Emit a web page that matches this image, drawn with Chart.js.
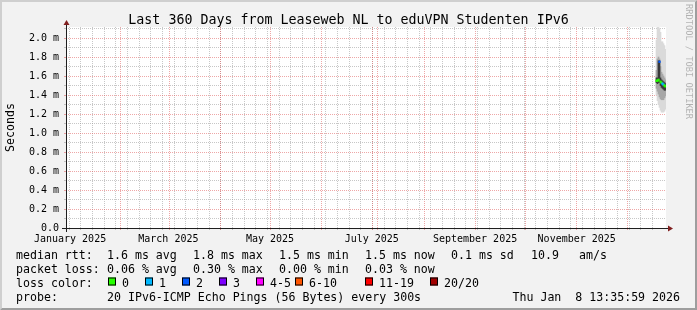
<!DOCTYPE html>
<html>
<head>
<meta charset="utf-8">
<script src="https://cdn.jsdelivr.net/npm/chart.js@4.4.1/dist/chart.umd.min.js"></script>
<style>
  html, body { margin: 0; padding: 0; background: #f2f2f2; }
  #wrap { width: 697px; height: 310px; position: relative; }
</style>
</head>
<body>
<div id="wrap"><canvas id="chart"></canvas></div>
<script>
// Smoke columns (last week of the graph), x = days since graph start
const days      = [354.3, 354.9, 355.5, 356.1, 356.7, 357.3, 357.9, 358.5, 359.1, 359.7];
const smokeMax  = [1.98, 2.12, 2.12, 2.10, 2.06, 1.96, 1.96, 1.94, 1.92, 1.88];
const smokeMin  = [1.40, 1.34, 1.30, 1.27, 1.24, 1.22, 1.22, 1.22, 1.23, 1.25];
const midHi     = [1.66, 1.78, 1.80, 1.78, 1.70, 1.64, 1.62, 1.60, 1.58, 1.56];
const midLo     = [1.47, 1.44, 1.41, 1.38, 1.36, 1.35, 1.35, 1.35, 1.37, 1.39];
const innerHi   = [1.58, 1.58, 1.76, 1.76, 1.58, 1.56, 1.55, 1.54, 1.53, 1.52];
const innerLo   = [1.53, 1.52, 1.53, 1.53, 1.50, 1.48, 1.47, 1.46, 1.45, 1.45];
const median    = [1.55, 1.55, 1.56, 1.75, 1.54, 1.53, 1.52, 1.51, 1.50, 1.49];
const lossLevel = [0, 0, 0, 2, 0, 0, 1, 1, 0, 0];   // index into lossColors

const lossColors = ['#26ff00', '#00b8ff', '#0059ff', '#7e00ff', '#ff00ff', '#ff5500', '#ff0000', '#a10000'];
const lossLabels = ['0', '1', '2', '3', '4-5', '6-10', '11-19', '20/20'];

const monthLabels = ['January 2025', 'March 2025', 'May 2025', 'July 2025', 'September 2025', 'November 2025'];
const yTicks = [0, 0.1, 0.2, 0.3, 0.4, 0.5, 0.6, 0.7, 0.8, 0.9, 1.0,
                1.1, 1.2, 1.3, 1.4, 1.5, 1.6, 1.7, 1.8, 1.9, 2.0, 2.1];

const rttStats  = ['1.6 ms avg', '1.8 ms max', '1.5 ms min', '1.5 ms now', '0.1 ms sd'];
const lossStats = ['0.06 % avg', '0.30 % max', '0.00 % min', '0.03 % now'];

// time axis helpers
const DAY = 86400000;
const graphStart = Date.UTC(2025, 0, 13, 13, 35, 59);
const toDay = t => (t - graphStart) / DAY;

const monthTicks = [];
for (let m = 1; m <= 12; m++) monthTicks.push(toDay(Date.UTC(2025, m, 1)));
const weekTicks = [];
for (let t = Date.UTC(2025, 0, 19); toDay(t) < 360; t += 7 * DAY) weekTicks.push(toDay(t));
const labelDays = [0, 2, 4, 6, 8, 10].map(m => toDay(Date.UTC(2025, m, 16)));

const MONO = "'DejaVu Sans Mono', monospace";
const GRID = 'rgba(143,143,143,0.5)';
const MGRID = 'rgba(222,79,79,0.5)';
const gridColor = kind => kind === 'major' ? MGRID : kind === 'minor' ? GRID : 'rgba(0,0,0,0)';

Chart.defaults.font.family = MONO;

const band = (lo, hi) => days.map((d, i) => ({ x: d, y: [lo[i], hi[i]] }));

// rrdtool look: background, frame, arrows, title, legend
const rrdFrame = {
    id: 'rrdFrame',
    beforeDraw(chart) {
        const { ctx, chartArea: a } = chart;
        ctx.save();
        ctx.fillStyle = '#f2f2f2';
        ctx.fillRect(0, 0, chart.width, chart.height);
        ctx.fillStyle = '#ffffff';
        ctx.fillRect(a.left, a.top, a.right - a.left, a.bottom - a.top);
        ctx.restore();
    },
    afterDraw(chart) {
        const { ctx, chartArea: a } = chart;
        const W = chart.width, H = chart.height;
        ctx.save();

        // axes
        const y0 = a.bottom + 0.5, x0 = a.left + 0.5;
        ctx.strokeStyle = '#1f1f1f';
        ctx.lineWidth = 1;
        ctx.beginPath();
        ctx.moveTo(a.left - 4, y0); ctx.lineTo(a.right + 4, y0);
        ctx.moveTo(x0, a.bottom + 4); ctx.lineTo(x0, a.top - 4);
        ctx.stroke();
        ctx.fillStyle = '#801f1f';
        ctx.beginPath();
        ctx.moveTo(a.right + 2, y0 - 3); ctx.lineTo(a.right + 2, y0 + 3); ctx.lineTo(a.right + 7, y0);
        ctx.closePath(); ctx.fill();
        ctx.beginPath();
        ctx.moveTo(x0 - 3, a.top - 2); ctx.lineTo(x0 + 3, a.top - 2); ctx.lineTo(x0, a.top - 7);
        ctx.closePath(); ctx.fill();

        // 3d border
        ctx.fillStyle = '#cfcfcf';
        ctx.beginPath();
        ctx.moveTo(0, H); ctx.lineTo(2, H - 2); ctx.lineTo(2, 2); ctx.lineTo(W - 2, 2);
        ctx.lineTo(W, 0); ctx.lineTo(0, 0); ctx.closePath(); ctx.fill();
        ctx.fillStyle = '#9e9e9e';
        ctx.beginPath();
        ctx.moveTo(2, H - 2); ctx.lineTo(W - 2, H - 2); ctx.lineTo(W - 2, 2);
        ctx.lineTo(W, 0); ctx.lineTo(W, H); ctx.lineTo(0, H); ctx.closePath(); ctx.fill();

        // title
        ctx.fillStyle = '#000';
        ctx.font = '13.3px ' + MONO;
        ctx.textAlign = 'center';
        ctx.textBaseline = 'alphabetic';
        ctx.fillText('Last 360 Days from Leaseweb NL to eduVPN Studenten IPv6', W / 2, 24);

        // legend
        ctx.font = '11.6px ' + MONO;
        ctx.textAlign = 'left';
        const statX = [107, 193, 279, 365, 451];
        ctx.fillText('median rtt:', 16, 258.5);
        rttStats.forEach((s, i) => ctx.fillText(s, statX[i], 258.5));
        ctx.fillText('10.9', 531, 258.5);
        ctx.fillText('am/s', 579, 258.5);
        ctx.fillText('packet loss:', 16, 272.5);
        lossStats.forEach((s, i) => ctx.fillText(s, statX[i], 272.5));
        ctx.fillText('loss color:', 16, 286.5);
        const boxX = [108, 145, 182, 219, 256, 295, 365, 430];
        lossColors.forEach((c, i) => {
            ctx.fillStyle = c;
            ctx.fillRect(boxX[i], 277.5, 8, 8);
            ctx.strokeStyle = '#000';
            ctx.strokeRect(boxX[i] + 0.5, 277.5 + 0.5, 7, 7);
            ctx.fillStyle = '#000';
            ctx.fillText(lossLabels[i], boxX[i] + 14, 286.5);
        });
        ctx.fillText('probe:', 16, 300.5);
        ctx.fillText('20 IPv6-ICMP Echo Pings (56 Bytes) every 300s', 107, 300.5);
        ctx.textAlign = 'right';
        ctx.fillText('Thu Jan  8 13:35:59 2026', 680, 300.5);

        // watermark
        ctx.translate(688, 4);
        ctx.rotate(Math.PI / 2);
        ctx.textAlign = 'left';
        ctx.textBaseline = 'middle';
        ctx.font = '8.7px ' + MONO;
        ctx.fillStyle = 'rgba(0,0,0,0.27)';
        ctx.fillText('RRDTOOL / TOBI OETIKER', 0, 0);
        ctx.restore();
    }
};

const barOpts = { grouped: false, categoryPercentage: 1, barPercentage: 1, borderWidth: 0 };

new Chart(document.getElementById('chart'), {
    type: 'bar',
    data: {
        datasets: [
            { ...barOpts, label: 'smoke', data: band(smokeMin, smokeMax), backgroundColor: '#dadada', order: 4 },
            { ...barOpts, label: 'smoke mid', data: band(midLo, midHi), backgroundColor: '#a8a8a8', order: 3 },
            { ...barOpts, label: 'smoke core', data: band(innerLo, innerHi), backgroundColor: '#3a3a3a', order: 2 },
            {
                type: 'line', label: 'median rtt', order: 1,
                data: days.map((d, i) => ({ x: d, y: median[i] })),
                showLine: false, pointStyle: 'rect', pointRadius: 1.6, pointBorderWidth: 0,
                pointBackgroundColor: lossLevel.map(l => lossColors[l])
            }
        ]
    },
    options: {
        responsive: true,
        maintainAspectRatio: false,
        animation: false,
        events: [],
        layout: { padding: { left: 0, top: 27, right: 31, bottom: 0 } },
        plugins: { legend: { display: false }, tooltip: { enabled: false }, title: { display: false } },
        scales: {
            x: {
                type: 'linear', min: 0, max: 360, offset: false,
                afterBuildTicks: s => {
                    s.ticks = weekTicks.map(v => ({ value: v, kind: 'minor' }))
                        .concat(monthTicks.map(v => ({ value: v, kind: 'major' })))
                        .concat(labelDays.map((v, i) => ({ value: v, kind: 'label', text: monthLabels[i] })));
                },
                afterFit: s => { s.height = 82; },
                ticks: {
                    autoSkip: false, maxRotation: 0, minRotation: 0, padding: 3,
                    color: '#000', font: { family: MONO, size: 10 },
                    callback: (v, i, ticks) => ticks[i].text || ''
                },
                grid: {
                    color: c => gridColor(c.tick && c.tick.kind),
                    tickColor: c => gridColor(c.tick && c.tick.kind),
                    tickLength: 2, lineWidth: 1
                },
                border: { display: false, dash: [1, 1] }
            },
            y: {
                min: 0, max: 2.116,
                afterBuildTicks: s => {
                    s.ticks = yTicks.map(v => ({ value: v, kind: Math.round(v * 10) % 2 ? 'minor' : 'major' }));
                },
                afterFit: s => { s.width = 66; },
                ticks: {
                    autoSkip: false, padding: 5, color: '#000', font: { family: MONO, size: 10 },
                    callback: (v, i, ticks) => ticks[i].kind !== 'major' ? '' : (v === 0 ? '0.0' : v.toFixed(1) + ' m')
                },
                grid: {
                    color: c => c.tick && c.tick.value === 0 ? 'rgba(0,0,0,0)' : gridColor(c.tick && c.tick.kind),
                    tickColor: c => gridColor(c.tick && c.tick.kind),
                    tickLength: 2, lineWidth: 1
                },
                border: { display: false, dash: [1, 1] },
                title: {
                    display: true, text: 'Seconds', color: '#000',
                    font: { family: MONO, size: 11.6 }, padding: { top: 4, bottom: 0 }
                }
            }
        }
    },
    plugins: [rrdFrame]
});
</script>
</body>
</html>
